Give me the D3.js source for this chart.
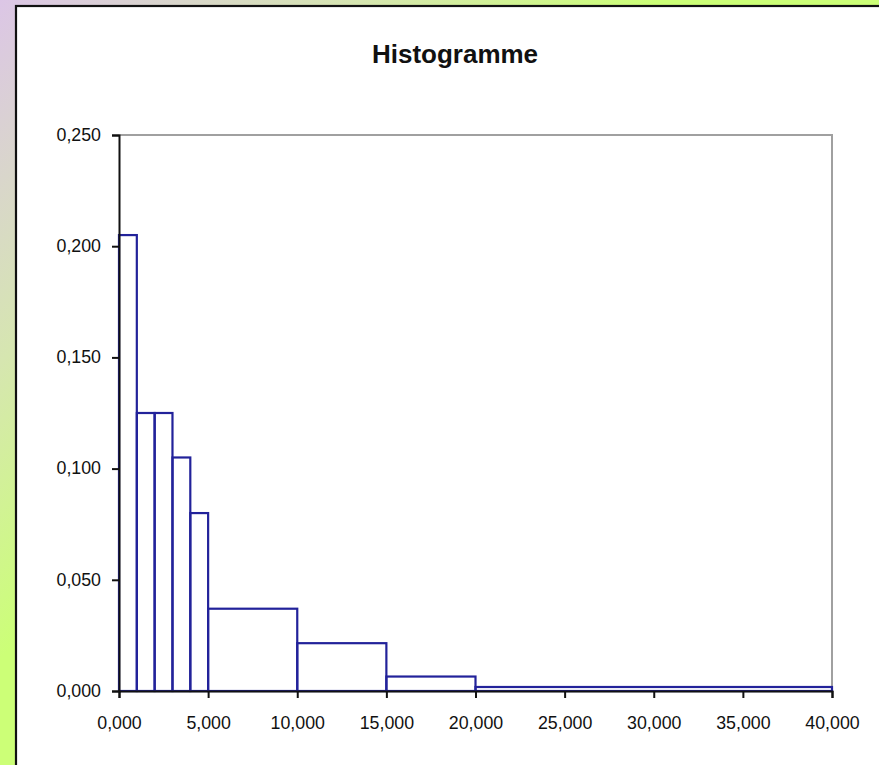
<!DOCTYPE html>
<html>
<head>
<meta charset="utf-8">
<script src="https://cdn.jsdelivr.net/npm/d3@7"></script>
<style>
  html, body { margin: 0; padding: 0; overflow: hidden; }
  svg { display: block; font-family: "Liberation Sans", Arial, sans-serif; }
</style>
</head>
<body>
<div id="chart"></div>
<script>
// histogram bins (class edges) and density per class
const binEdges = [0, 1, 2, 3, 4, 5, 10, 15, 20, 40];
const densities = [0.205, 0.125, 0.125, 0.105, 0.080, 0.037, 0.0215, 0.0065, 0.0018];
const xTicks = [0, 5, 10, 15, 20, 25, 30, 35, 40];
const yTicks = [0, 0.05, 0.10, 0.15, 0.20, 0.25];
const title = "Histogramme";

const width = 879, height = 765;
const plotLeft = 119, plotRight = 832, plotTop = 135, plotBottom = 691;

const svg = d3.select("#chart").append("svg")
    .attr("width", width)
    .attr("height", height);

// page background gradient (purple -> green)
const defs = svg.append("defs");
const grad = defs.append("linearGradient")
    .attr("id", "bg")
    .attr("gradientUnits", "userSpaceOnUse")
    .attr("x1", 0).attr("y1", 0)
    .attr("x2", 330).attr("y2", 330);
grad.append("stop").attr("offset", "0%").attr("stop-color", "#dcc6e6");
grad.append("stop").attr("offset", "55%").attr("stop-color", "#d6e6b0");
grad.append("stop").attr("offset", "100%").attr("stop-color", "#ccff77");

svg.append("rect")
    .attr("width", width).attr("height", height)
    .attr("fill", "url(#bg)");

// chart area
svg.append("rect")
    .attr("x", 16).attr("y", 6)
    .attr("width", width + 20).attr("height", height + 20)
    .attr("fill", "#fff")
    .attr("stroke", "#111")
    .attr("stroke-width", 2.2);

const fr = d3.formatLocale({decimal: ",", thousands: ".", grouping: [3], currency: ["", " €"]});
const fmt = fr.format(".3f");

const x = d3.scaleLinear().domain([0, 40]).range([plotLeft, plotRight]);
const y = d3.scaleLinear().domain([0, 0.25]).range([plotBottom, plotTop]);

// plot frame (grey top/right)
svg.append("path")
    .attr("d", `M${plotLeft},${plotTop}H${plotRight}V${plotBottom}`)
    .attr("fill", "none")
    .attr("stroke", "#a0a0a0")
    .attr("stroke-width", 2);

// bars
const bins = densities.map((d, i) => ({x0: binEdges[i], x1: binEdges[i + 1], v: d}));
svg.append("g").selectAll("rect")
    .data(bins)
    .enter().append("rect")
    .attr("x", d => x(d.x0))
    .attr("y", d => y(d.v))
    .attr("width", d => x(d.x1) - x(d.x0))
    .attr("height", d => y(0) - y(d.v))
    .attr("fill", "none")
    .attr("stroke", "#22229a")
    .attr("stroke-width", 2.2);

// axes
const xAxis = svg.append("g")
    .attr("transform", `translate(0,${plotBottom})`)
    .call(d3.axisBottom(x).tickValues(xTicks).tickFormat(fmt).tickSize(7).tickPadding(18));
const yAxis = svg.append("g")
    .attr("transform", `translate(${plotLeft},0)`)
    .call(d3.axisLeft(y).tickValues(yTicks).tickFormat(fmt).tickSize(7).tickPadding(11));

[xAxis, yAxis].forEach(g => {
    g.select(".domain").attr("stroke", "#111").attr("stroke-width", 2);
    g.selectAll(".tick line").attr("stroke", "#111").attr("stroke-width", 2);
    g.selectAll(".tick text")
        .attr("fill", "#111")
        .style("font-size", "17.8px")
        .style("font-family", "'Liberation Sans', Arial, sans-serif");
});
yAxis.selectAll(".tick text").attr("dy", "0.3em");

// title
svg.append("text")
    .attr("x", 455)
    .attr("y", 63)
    .attr("text-anchor", "middle")
    .style("font-size", "26px")
    .style("font-weight", "bold")
    .attr("fill", "#111")
    .text(title);
</script>
</body>
</html>
